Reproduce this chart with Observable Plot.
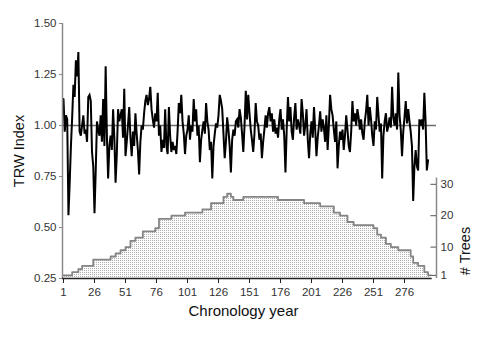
<!DOCTYPE html>
<html>
<head>
<meta charset="utf-8">
<script src="https://cdn.jsdelivr.net/npm/d3@7"></script>
<script src="https://cdn.jsdelivr.net/npm/@observablehq/plot@0.6"></script>
<style>
  html, body { margin: 0; padding: 0; background: #fff; }
  #chart svg { display: block; }
</style>
</head>
<body>
<div id="chart"></div>
<script>
// ---- data ----
const firstYear = 1;
const trwValues = [
  1.13,0.97,1.05,1.03,0.56,0.72,0.90,1.04,1.20,1.14,
  1.32,1.24,1.36,0.97,0.95,1.00,1.05,0.96,0.98,0.92,
  1.14,1.15,1.12,0.87,0.80,0.57,0.78,1.02,0.98,0.95,
  1.05,0.92,1.13,0.90,1.29,0.95,0.74,0.90,0.95,0.88,
  1.08,0.94,0.72,0.86,1.08,1.02,1.05,1.08,0.94,1.18,
  0.85,0.92,1.00,1.09,0.94,0.85,0.97,0.90,1.06,0.96,
  0.88,0.76,0.92,1.00,0.98,1.06,1.12,1.15,1.10,1.13,
  1.19,1.08,1.03,0.99,1.06,1.02,1.16,0.95,1.00,0.87,
  0.93,0.89,1.08,0.90,0.86,1.09,0.95,0.87,0.92,0.88,
  0.90,0.86,0.97,1.11,1.06,1.15,1.02,0.96,0.86,0.95,
  0.98,1.05,0.93,1.00,0.97,1.13,1.02,1.08,0.95,1.00,
  0.82,0.93,0.98,1.02,0.96,1.11,1.02,0.98,0.88,0.92,
  0.74,0.90,0.96,1.01,0.99,1.05,1.15,1.12,1.08,0.96,
  0.84,0.92,1.04,0.98,0.90,0.77,0.93,0.98,0.95,1.02,
  1.03,0.99,1.08,1.04,0.96,0.87,1.00,1.17,1.03,1.15,
  1.06,0.98,0.93,0.87,0.96,1.11,1.02,1.00,0.93,0.96,
  0.84,0.92,0.98,1.05,0.99,1.06,1.09,1.02,1.06,0.97,
  1.03,0.96,0.99,0.94,1.03,1.08,0.98,1.03,0.95,0.77,
  0.98,1.14,1.02,1.09,0.97,0.93,1.04,1.11,0.98,1.03,
  1.00,0.96,1.13,1.06,0.95,1.00,1.08,0.93,0.84,0.96,
  1.02,0.94,1.09,0.98,0.85,0.94,1.00,1.07,0.97,1.03,
  0.99,0.92,1.05,0.88,1.00,1.15,1.08,1.05,0.98,0.92,
  1.02,0.79,0.90,0.97,0.93,0.98,0.88,0.95,1.05,0.98,
  0.90,0.87,0.97,1.12,1.02,1.06,1.00,1.08,1.04,0.98,
  1.03,0.96,0.93,1.02,1.07,1.15,1.00,1.09,1.03,0.95,
  0.90,1.02,0.98,1.14,1.05,0.97,1.01,0.74,0.95,1.02,
  1.06,0.97,1.00,1.04,0.99,1.19,1.04,1.00,1.06,0.98,
  1.26,1.05,0.98,0.85,0.97,1.04,1.12,1.01,1.08,1.02,
  0.97,0.90,0.63,0.80,0.88,0.80,0.78,1.03,1.00,1.03,
  0.98,1.16,1.02,0.78,0.83
];
// sample depth (# trees): year where each step starts, and its count
const treeYears  = [1, 8, 13, 16, 25, 39, 43, 47, 51, 55, 59, 65, 75, 78, 88, 99, 113, 120, 130, 133, 136, 138, 146, 174, 195, 208, 219, 224, 230, 235, 251, 254, 257, 261, 265, 271, 281, 283, 287, 292, 295, 297];
const treeCounts = [1, 2, 3, 4, 6, 7, 8, 9, 10, 12, 13, 15, 16, 19, 20, 21, 22, 24, 26, 27, 26, 25, 26, 25, 24, 23, 21, 20, 18, 17, 16, 14, 13, 11, 10, 9, 7, 5, 4, 2, 1, 1];
const xTicks = [1, 26, 51, 76, 101, 126, 151, 176, 201, 226, 251, 276];
const yTicks = [0.25, 0.50, 0.75, 1.00, 1.25, 1.50];
const treeTicks = [1, 10, 20, 30];

// ---- tables ----
const trw = trwValues.map((v, i) => ({year: firstYear + i, value: v}));
const trees = treeYears.map((y, i) => ({year: y, n: treeCounts[i]}));

// secondary axis: trees mapped onto the TRW scale (0 trees at the 0.25 baseline)
const base = 0.25, perTree = 0.01539;
const toY = n => base + n * perTree;

const xMin = 0.2, xMax = 301.8, xAxisEnd = 298.3;
const font = "Liberation Sans, Arial, Helvetica, sans-serif";

const chart = Plot.plot({
  width: 480,
  height: 360,
  marginLeft: 62,
  marginRight: 44,
  marginTop: 23,
  marginBottom: 82,
  style: {fontFamily: font, fontSize: "11px", color: "#222", background: "#fff"},
  x: {domain: [xMin, xMax], axis: null},
  y: {domain: [0.25, 1.5], axis: null},
  marks: [
    Plot.areaY(trees, {x: "year", y1: base, y2: d => toY(d.n), curve: "step-after", fill: "url(#stip)"}),
    Plot.lineY(trees, {x: "year", y: d => toY(d.n), curve: "step-after", stroke: "#858585", strokeWidth: 1.8}),
    Plot.ruleY([1], {x1: xMin, x2: xMax, stroke: "#6e6e6e", strokeWidth: 1.5}),
    Plot.lineY(trw, {x: "year", y: "value", stroke: "#000", strokeWidth: 2, strokeLinejoin: "miter", strokeMiterlimit: 3}),
    // left axis
    Plot.ruleX([xMin], {y1: 0.25, y2: 1.5, stroke: "#8a8a8a", strokeWidth: 1.5}),
    Plot.axisY(yTicks, {anchor: "left", tickSize: 3, tickPadding: 3, tickFormat: d3.format(".2f"), stroke: "#8a8a8a", fill: "#333", fontSize: 11.5, label: null}),
    // bottom axis
    Plot.ruleY([0.25], {x1: xMin, x2: xAxisEnd, stroke: "#222", strokeWidth: 1.5}),
    Plot.axisX(xTicks, {anchor: "bottom", tickSize: 5, tickPadding: 4, stroke: "#222", fill: "#333", fontSize: 11.5, label: null}),
    // right axis (# trees)
    Plot.ruleX([xMax], {y1: base, y2: toY(32), stroke: "#8a8a8a", strokeWidth: 1.5}),
    Plot.ruleY(treeTicks, {y: toY, x1: xMax - 4.5, x2: xMax, stroke: "#555"}),
    Plot.text(treeTicks, {y: toY, x: xMax, dx: 4, text: d => String(d), textAnchor: "start", fill: "#333", fontSize: 11.5}),
    // axis titles
    Plot.text(["Chronology year"], {frameAnchor: "bottom", dx: -6, dy: 37, fontSize: 15, fill: "#111"}),
    Plot.text(["TRW Index"], {frameAnchor: "left", textAnchor: "middle", dx: -43, dy: 0, rotate: -90, fontSize: 14.5, fill: "#111"}),
    Plot.text(["# Trees"], {frameAnchor: "right", textAnchor: "middle", dx: 29, dy: 100, rotate: -90, fontSize: 14.5, fill: "#111"})
  ]
});

// stippled fill pattern for the sample-depth area
const svg = d3.select(chart);
const defs = svg.insert("defs", ":first-child");
const pat = defs.append("pattern").attr("id", "stip").attr("width", 2).attr("height", 2).attr("patternUnits", "userSpaceOnUse");
pat.append("rect").attr("width", 2).attr("height", 2).attr("fill", "#fdfdfd");
pat.append("rect").attr("width", 1).attr("height", 1).attr("fill", "#b0b0b0");

document.getElementById("chart").appendChild(chart);
</script>
</body>
</html>
